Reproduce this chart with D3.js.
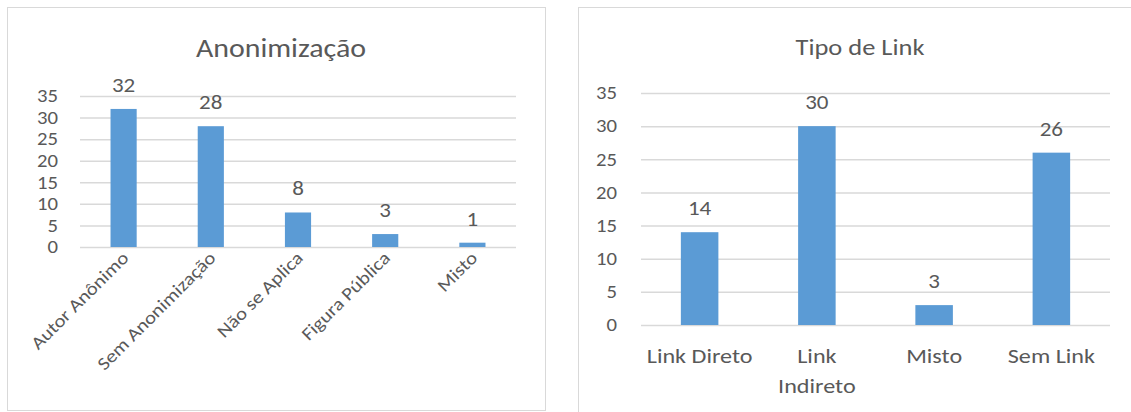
<!DOCTYPE html>
<html>
<head>
<meta charset="utf-8">
<script src="https://cdn.jsdelivr.net/npm/d3@7"></script>
<style>
  body { margin: 0; background: #fff; }
  svg text { font-family: Carlito, Calibri, Lato, sans-serif; fill: #595959; }
</style>
</head>
<body>
<div id="chart"></div>
<script>
// data
const anonCategories = ["Autor Anônimo", "Sem Anonimização", "Não se Aplica", "Figura Pública", "Misto"];
const anonValues = [32, 28, 8, 3, 1];
const linkCategories = ["Link Direto", "Link Indireto", "Misto", "Sem Link"];
const linkValues = [14, 30, 3, 26];
const yTickValues = [0, 5, 10, 15, 20, 25, 30, 35];

// the picture's type is a bit wider than Lato, so stretch text horizontally
const STRETCH = 1.15;

const svg = d3.select('#chart').append('svg')
  .attr('width', 1131)
  .attr('height', 412);

// panel frames
svg.append('rect').attr('x', 7.5).attr('y', 7.5).attr('width', 538).attr('height', 403)
  .attr('fill', 'none').attr('stroke', '#d9d9d9');
svg.append('rect').attr('x', 578.5).attr('y', 7.5).attr('width', 600).attr('height', 420)
  .attr('fill', 'none').attr('stroke', '#d9d9d9');

function stretch (sel) {
  sel.each(function () {
    let len = this.getComputedTextLength();
    d3.select(this).attr('textLength', len * STRETCH).attr('lengthAdjust', 'spacingAndGlyphs');
  });
}

function drawChart (cfg) {
  let g = svg.append('g');

  let x = d3.scaleBand()
    .domain(cfg.categories)
    .range([cfg.left, cfg.right])
    .paddingInner(cfg.padding)
    .paddingOuter(cfg.padding / 2);

  let y = d3.scaleLinear()
    .domain([0, 35])
    .range([cfg.bottom, cfg.top]);

  // gridlines + y tick labels
  let yAxis = g.append('g')
    .attr('transform', `translate(${cfg.left},0)`)
    .call(d3.axisLeft(y).tickValues(yTickValues).tickSize(-(cfg.right - cfg.left)).tickPadding(cfg.tickPad));
  yAxis.select('.domain').remove();
  yAxis.selectAll('line').attr('stroke', '#d9d9d9').attr('stroke-width', 1.5);
  yAxis.selectAll('text').attr('font-size', cfg.tickFont).attr('fill', '#595959').call(stretch);

  // bars
  g.selectAll('rect.bar')
    .data(cfg.values)
    .join('rect')
    .attr('class', 'bar')
    .attr('x', (d, i) => x(cfg.categories[i]))
    .attr('width', x.bandwidth())
    .attr('y', d => y(d))
    .attr('height', d => y(0) - y(d))
    .attr('fill', '#5b9bd5');

  // value labels
  g.selectAll('text.val')
    .data(cfg.values)
    .join('text')
    .attr('class', 'val')
    .attr('x', (d, i) => x(cfg.categories[i]) + x.bandwidth() / 2)
    .attr('y', d => y(d) - 17)
    .attr('text-anchor', 'middle')
    .attr('font-size', cfg.valFont)
    .text(d => d)
    .call(stretch);

  // title
  g.append('text')
    .attr('x', cfg.titleX)
    .attr('y', cfg.titleY)
    .attr('text-anchor', 'middle')
    .attr('font-size', cfg.titleFont)
    .text(cfg.title)
    .call(stretch);

  // category labels
  let xAxis = g.append('g')
    .attr('transform', `translate(0,${cfg.bottom})`)
    .call(d3.axisBottom(x).tickSize(0).tickPadding(0));
  xAxis.select('.domain').remove();
  let labels = xAxis.selectAll('text').attr('font-size', cfg.catFont).attr('fill', '#595959');

  if (cfg.rotate) {
    labels
      .attr('text-anchor', 'end')
      .attr('dy', 0)
      .attr('transform', `translate(${cfg.rotDx},${cfg.rotDy}) rotate(-45)`)
      .call(stretch);
  } else {
    labels.each(function (d) {
      let t = d3.select(this);
      let words = d.split(' ');
      t.text(null).attr('dy', null).attr('y', 0);
      let lines = [];
      let cur = [];
      // wrap words that do not fit in the band
      let probe = t.append('tspan');
      words.forEach(w => {
        let test = cur.concat(w).join(' ');
        probe.text(test);
        if (cur.length && probe.node().getComputedTextLength() * STRETCH > cfg.wrapWidth) {
          lines.push(cur.join(' '));
          cur = [w];
        } else {
          cur.push(w);
        }
      });
      lines.push(cur.join(' '));
      probe.remove();
      lines.forEach((l, i) => {
        t.append('tspan').attr('x', 0).attr('y', cfg.catY + i * cfg.lineGap).text(l).call(stretch);
      });
    });
  }
}

drawChart({
  categories: anonCategories, values: anonValues,
  left: 80, right: 516, top: 96, bottom: 247, padding: 0.7,
  tickPad: 22, tickFont: 18, valFont: 20, catFont: 18,
  title: 'Anonimização', titleX: 281, titleY: 57, titleFont: 26,
  rotate: true, rotDx: 6, rotDy: 12
});

drawChart({
  categories: linkCategories, values: linkValues,
  left: 641, right: 1110, top: 93, bottom: 325, padding: 0.68,
  tickPad: 24, tickFont: 18, valFont: 20, catFont: 21,
  title: 'Tipo de Link', titleX: 860, titleY: 55, titleFont: 23,
  rotate: false, catY: 38, lineGap: 30, wrapWidth: 112
});
</script>
</body>
</html>
